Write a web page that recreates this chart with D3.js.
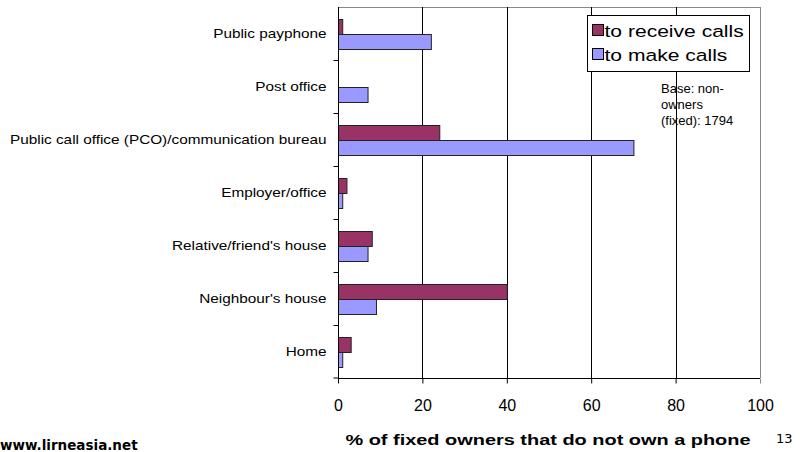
<!DOCTYPE html>
<head>
  <meta charset="utf-8">
  <script src="https://d3js.org/d3.v7.min.js"></script>
  <style>
    body { margin:0; background:white; }
    svg { display:block; font-family: "Liberation Sans", Arial, sans-serif; }
  </style>
</head>
<body>
<script>
  // categories top to bottom
  var categories = ["Public payphone", "Post office", "Public call office (PCO)/communication bureau",
    "Employer/office", "Relative/friend's house", "Neighbour's house", "Home"];
  var receiveCalls = [1, 0, 24, 2, 8, 40, 3];
  var makeCalls = [22, 7, 70, 1, 7, 9, 1];
  var seriesNames = ["to receive calls", "to make calls"];
  var seriesColors = ["#993366", "#9999ff"];
  var xTicks = [0, 20, 40, 60, 80, 100];

  var width = 810, height = 452;
  var svg = d3.select("body").append("svg").attr("width", width).attr("height", height);

  var x = d3.scaleLinear().domain([0, 100]).range([338, 760]);
  var y = d3.scaleBand().domain(categories).range([7, 378]);
  var inner = d3.scaleBand().domain(seriesNames).range([12, y.bandwidth() - 11]);

  // plot frame (top and right)
  svg.append("path")
    .attr("d", "M" + x(0) + "," + y.range()[0] + "H" + x(100) + "V" + y.range()[1])
    .attr("fill", "none").attr("stroke", "#888").attr("shape-rendering", "crispEdges");

  // gridlines
  svg.selectAll("line.grid")
    .data(xTicks.slice(1, -1))
    .enter().append("line")
    .attr("class", "grid")
    .attr("x1", function(d) { return Math.round(x(d)) + 0.5; })
    .attr("x2", function(d) { return Math.round(x(d)) + 0.5; })
    .attr("y1", 7).attr("y2", 378)
    .attr("stroke", "#000");

  var rows = categories.map(function(c, i) {
    return [{ cat: c, s: 0, v: receiveCalls[i] }, { cat: c, s: 1, v: makeCalls[i] }];
  });
  var bars = [].concat.apply([], rows).filter(function(d) { return d.v > 0; });

  svg.selectAll("rect.bar")
    .data(bars)
    .enter().append("rect")
    .attr("class", "bar")
    .attr("x", x(0) + 0.5)
    .attr("y", function(d) { return Math.round(y(d.cat) + inner(seriesNames[d.s])) + 0.5; })
    .attr("width", function(d) { return x(d.v) - x(0); })
    .attr("height", Math.round(inner.bandwidth()))
    .attr("fill", function(d) { return seriesColors[d.s]; })
    .attr("stroke", "#222").attr("stroke-width", 1);

  // x axis
  var xAxis = svg.append("g").attr("transform", "translate(0,378.5)")
    .call(d3.axisBottom(x).tickValues(xTicks).tickSize(5).tickPadding(16));
  xAxis.select(".domain").attr("d", "M" + x(0) + ",0H" + x(100));
  xAxis.selectAll("text").attr("font-size", 16).attr("font-family", "Liberation Sans, Arial, sans-serif").attr("fill", "#000");
  xAxis.selectAll("line").attr("stroke", "#000");
  xAxis.selectAll(".tick").filter(function(d) { return d === 100; }).select("line").attr("stroke", "#888");

  // y axis
  var labelStretch = 1.18;
  var yAxis = svg.append("g").attr("transform", "translate(338.5,0)")
    .call(d3.axisLeft(y).tickSize(0).tickPadding(12));
  yAxis.select(".domain").attr("d", "M0," + y.range()[0] + "V" + y.range()[1]);
  yAxis.selectAll("text")
    .attr("font-size", 13).attr("font-family", "Liberation Sans, Arial, sans-serif").attr("fill", "#000")
    .attr("x", -12 / labelStretch)
    .attr("transform", "scale(" + labelStretch + ",1)");
  // category separator ticks
  yAxis.selectAll("line.sep")
    .data(categories.slice(1).concat(["__end"]))
    .enter().append("line")
    .attr("class", "sep")
    .attr("x1", -5).attr("x2", 0)
    .attr("y1", function(d) { return d === "__end" ? 378 : Math.round(y(d)) + 0.5; })
    .attr("y2", function(d) { return d === "__end" ? 378 : Math.round(y(d)) + 0.5; })
    .attr("stroke", "#000");

  // axis title
  svg.append("text")
    .attr("transform", "translate(548,445) scale(1.33,1)")
    .attr("text-anchor", "middle")
    .attr("font-size", 15).attr("font-weight", "bold")
    .text("% of fixed owners that do not own a phone");

  // legend
  var legend = svg.append("g").attr("transform", "translate(587.5,15.5)");
  legend.append("rect").attr("width", 162).attr("height", 56)
    .attr("fill", "white").attr("stroke", "#000");
  seriesNames.forEach(function(n, i) {
    legend.append("rect").attr("x", 5).attr("y", 9 + i * 24).attr("width", 11).attr("height", 11)
      .attr("fill", seriesColors[i]).attr("stroke", "#000");
    legend.append("text")
      .attr("transform", "translate(17," + (21 + i * 24) + ") scale(1.24,1)")
      .attr("font-size", 17).text(n);
  });

  // note
  var note = ["Base: non-", "owners", "(fixed): 1794"];
  svg.selectAll("text.note")
    .data(note)
    .enter().append("text")
    .attr("class", "note")
    .attr("x", 661).attr("y", function(d, i) { return 93 + i * 16; })
    .attr("font-size", 13)
    .text(function(d) { return d; });

  svg.append("text")
    .attr("x", 0).attr("y", 450)
    .attr("font-family", "DejaVu Sans, Verdana, sans-serif")
    .attr("font-size", 13.5).attr("font-weight", "bold")
    .text("www.lirneasia.net");

  svg.append("text")
    .attr("x", 776).attr("y", 443)
    .attr("font-family", "DejaVu Sans, Verdana, sans-serif")
    .attr("font-size", 13)
    .text("13");
</script>
</body>
